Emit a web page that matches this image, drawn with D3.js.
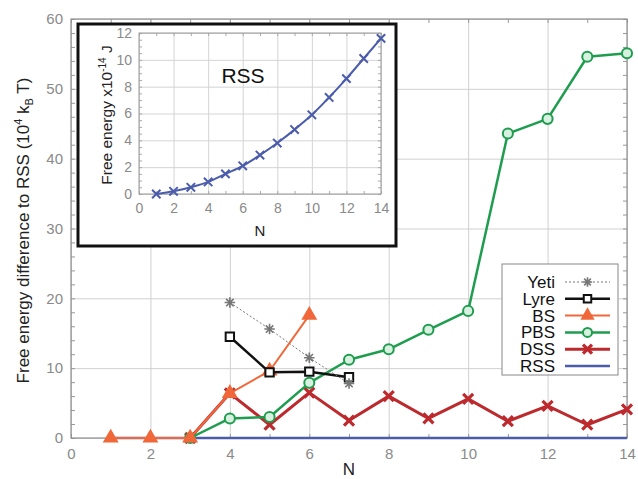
<!DOCTYPE html>
<html>
<head>
<meta charset="utf-8">
<script src="https://cdn.jsdelivr.net/npm/d3@7"></script>
<style>
  body { margin: 0; background: #fff; }
  svg { display: block; font-family: "Liberation Sans", Arial, sans-serif; }
  .tick text { fill: #8a8a8a; }
</style>
</head>
<body>
<svg width="638" height="479"></svg>
<script>
// data
const xTicks = [0, 2, 4, 6, 8, 10, 12, 14];
const yTicks = [0, 10, 20, 30, 40, 50, 60];
const insetYTicks = [0, 2, 4, 6, 8, 10, 12];

const yetiN = [4, 5, 6, 7];
const yetiE = [19.4, 15.6, 11.5, 7.8];
const lyreN = [4, 5, 6, 7];
const lyreE = [14.5, 9.4, 9.5, 8.7];
const bsN = [1, 2, 3, 4, 5, 6];
const bsE = [0, 0, 0, 6.4, 9.6, 17.6];
const pbsN = [3, 4, 5, 6, 7, 8, 9, 10, 11, 12, 13, 14];
const pbsE = [0, 2.8, 3.0, 7.9, 11.2, 12.7, 15.5, 18.2, 43.6, 45.7, 54.6, 55.1];
const dssN = [3, 4, 5, 6, 7, 8, 9, 10, 11, 12, 13, 14];
const dssE = [0, 6.4, 1.9, 6.5, 2.5, 6.0, 2.8, 5.6, 2.4, 4.6, 1.9, 4.1];
const rssN = [1, 2, 3, 4, 5, 6, 7, 8, 9, 10, 11, 12, 13, 14];
const rssE = [0, 0, 0, 0, 0, 0, 0, 0, 0, 0, 0, 0, 0, 0];

const insetN = [1, 2, 3, 4, 5, 6, 7, 8, 9, 10, 11, 12, 13, 14];
const insetE = [0.0, 0.2, 0.5, 0.9, 1.5, 2.1, 2.9, 3.8, 4.8, 5.9, 7.2, 8.6, 10.1, 11.6];

const legendNames = ['Yeti', 'Lyre', 'BS', 'PBS', 'DSS', 'RSS'];

const zip = (ns, es) => ns.map((n, i) => ({ n, e: es[i] }));

// custom stroke symbols
const symAsterisk = {
  draw(ctx, size) {
    const r = Math.sqrt(size) / 2;
    for (let k = 0; k < 4; k++) {
      const a = k * Math.PI / 4;
      ctx.moveTo(-r * Math.cos(a), -r * Math.sin(a));
      ctx.lineTo(r * Math.cos(a), r * Math.sin(a));
    }
  }
};
const symX = {
  draw(ctx, size) {
    const r = Math.sqrt(size) / 2;
    ctx.moveTo(-r, -r); ctx.lineTo(r, r);
    ctx.moveTo(-r, r); ctx.lineTo(r, -r);
  }
};

const series = [
  { name: 'RSS', data: zip(rssN, rssE), color: '#4b5cab', width: 2.5 },
  { name: 'DSS', data: zip(dssN, dssE), color: '#bd2a2e', width: 3,
    sym: symX, size: 100, symStroke: 3.2, fill: 'none' },
  { name: 'PBS', data: zip(pbsN, pbsE), color: '#1f9d4f', width: 2.5,
    sym: d3.symbolCircle, size: 80, symStroke: 2, fill: '#d8f0df' },
  { name: 'BS', data: zip(bsN, bsE), color: '#f0683a', width: 2,
    sym: d3.symbolTriangle, size: 110, symStroke: 0, fill: '#f0683a' },
  { name: 'Lyre', data: zip(lyreN, lyreE), color: '#111', width: 2.5,
    sym: d3.symbolSquare, size: 70, symStroke: 2, fill: '#fff' },
  { name: 'Yeti', data: zip(yetiN, yetiE), color: '#777', width: 1, dash: '2,2',
    sym: symAsterisk, size: 110, symStroke: 1.6, fill: 'none' }
];

const svg = d3.select('svg');

const margin = { top: 19, right: 11, bottom: 41, left: 71 };
const width = +svg.attr('width');
const height = +svg.attr('height');
const innerWidth = width - margin.left - margin.right;
const innerHeight = height - margin.top - margin.bottom;

const xScale = d3.scaleLinear().domain([0, 14]).range([0, innerWidth]);
const yScale = d3.scaleLinear().domain([0, 60]).range([innerHeight, 0]);

const g = svg.append('g')
  .attr('transform', `translate(${margin.left},${margin.top})`);

// lines-only axis (grid / minor ticks), no labels
const lineAxis = (parent, axis, tr, color) => {
  const a = parent.append('g').attr('transform', tr).call(axis);
  a.select('.domain').remove();
  a.selectAll('text').remove();
  a.selectAll('line').attr('stroke', color);
  return a;
};

// grid
lineAxis(g, d3.axisBottom(xScale).tickValues(xTicks).tickSize(-innerHeight), `translate(0,${innerHeight})`, '#d0d0d0');
lineAxis(g, d3.axisLeft(yScale).tickValues(yTicks).tickSize(-innerWidth), 'translate(0,0)', '#d0d0d0');

// minor ticks on all four sides
const minorX = d3.range(0, 15, 1);
const minorY = d3.range(0, 61, 2);
lineAxis(g, d3.axisBottom(xScale).tickValues(minorX).tickSize(-4), `translate(0,${innerHeight})`, '#999');
lineAxis(g, d3.axisTop(xScale).tickValues(minorX).tickSize(-4), 'translate(0,0)', '#999');
lineAxis(g, d3.axisLeft(yScale).tickValues(minorY).tickSize(-4), 'translate(0,0)', '#999');
lineAxis(g, d3.axisRight(yScale).tickValues(minorY).tickSize(-4), `translate(${innerWidth},0)`, '#999');

// tick labels
const xAxisG = g.append('g')
  .attr('transform', `translate(0,${innerHeight})`)
  .call(d3.axisBottom(xScale).tickValues(xTicks).tickSize(0).tickPadding(10));
xAxisG.select('.domain').remove();
xAxisG.selectAll('text').attr('font-size', 15).attr('font-family', 'Liberation Sans, Arial, sans-serif');

const yAxisG = g.append('g')
  .call(d3.axisLeft(yScale).tickValues(yTicks).tickSize(0).tickPadding(8));
yAxisG.select('.domain').remove();
yAxisG.selectAll('text').attr('font-size', 15).attr('font-family', 'Liberation Sans, Arial, sans-serif');

// frame
g.append('rect')
  .attr('width', innerWidth).attr('height', innerHeight)
  .attr('fill', 'none').attr('stroke', '#8f8f8f').attr('stroke-width', 1.2);

// axis labels
g.append('text')
  .attr('x', innerWidth / 2)
  .attr('y', innerHeight + 37)
  .attr('text-anchor', 'middle')
  .attr('font-size', 17)
  .attr('fill', '#222')
  .text('N');

const yLabel = svg.append('text')
  .attr('transform', `translate(29,${margin.top + innerHeight / 2 + 2}) rotate(-90)`)
  .attr('text-anchor', 'middle')
  .attr('font-size', 17)
  .attr('fill', '#222');
yLabel.append('tspan').text('Free energy difference to RSS (10');
yLabel.append('tspan').attr('font-size', 11).attr('dy', -7).text('4');
yLabel.append('tspan').attr('dy', 7).text(' k');
yLabel.append('tspan').attr('font-size', 11).attr('dy', 4).text('B');
yLabel.append('tspan').attr('dy', -4).text(' T)');

// series
const lineGen = d3.line().x(d => xScale(d.n)).y(d => yScale(d.e));
series.forEach(s => {
  g.append('path')
    .attr('d', lineGen(s.data))
    .attr('fill', 'none')
    .attr('stroke', s.color)
    .attr('stroke-width', s.width)
    .attr('stroke-dasharray', s.dash || null)
    .attr('stroke-linejoin', 'round');
  if (s.sym) {
    g.selectAll(null).data(s.data).enter().append('path')
      .attr('transform', d => `translate(${xScale(d.n)},${yScale(d.e)})`)
      .attr('d', d3.symbol().type(s.sym).size(s.size))
      .attr('fill', s.fill)
      .attr('stroke', s.color)
      .attr('stroke-width', s.symStroke);
  }
});

// legend
const legend = svg.append('g').attr('transform', 'translate(502,264)');
legend.append('rect')
  .attr('width', 116).attr('height', 111)
  .attr('fill', '#fff').attr('stroke', '#888').attr('stroke-width', 1);
legendNames.forEach((name, i) => {
  const s = series.find(d => d.name === name);
  const y = 18 + i * 16.8;
  legend.append('text')
    .attr('x', 53).attr('y', y).attr('dy', '0.35em')
    .attr('text-anchor', 'end')
    .attr('font-size', 17)
    .attr('fill', '#111')
    .text(name);
  legend.append('line')
    .attr('x1', 63).attr('x2', 108).attr('y1', y).attr('y2', y)
    .attr('stroke', s.color)
    .attr('stroke-width', s.width)
    .attr('stroke-dasharray', s.dash || null);
  if (s.sym) {
    legend.append('path')
      .attr('transform', `translate(85.5,${y})`)
      .attr('d', d3.symbol().type(s.sym).size(s.size * 0.8))
      .attr('fill', s.fill)
      .attr('stroke', s.color)
      .attr('stroke-width', s.symStroke);
  }
});

// inset
const inset = svg.append('g');
inset.append('rect')
  .attr('x', 78).attr('y', 24).attr('width', 318).attr('height', 222)
  .attr('fill', '#fff').attr('stroke', '#111').attr('stroke-width', 3);

const ix = d3.scaleLinear().domain([0, 14]).range([139, 381]);
const iy = d3.scaleLinear().domain([0, 12]).range([194, 33]);

lineAxis(inset, d3.axisBottom(ix).tickValues(xTicks).tickSize(-(194 - 33)), 'translate(0,194)', '#d4d4d4');
lineAxis(inset, d3.axisLeft(iy).tickValues(insetYTicks).tickSize(-(381 - 139)), 'translate(139,0)', '#d4d4d4');
const iMinorX = d3.range(0, 15, 1);
const iMinorY = d3.range(0, 12.1, 0.5);
lineAxis(inset, d3.axisBottom(ix).tickValues(iMinorX).tickSize(-3), 'translate(0,194)', '#aaa');
lineAxis(inset, d3.axisTop(ix).tickValues(iMinorX).tickSize(-3), 'translate(0,33)', '#aaa');
lineAxis(inset, d3.axisLeft(iy).tickValues(iMinorY).tickSize(-3), 'translate(139,0)', '#aaa');
lineAxis(inset, d3.axisRight(iy).tickValues(iMinorY).tickSize(-3), 'translate(381,0)', '#aaa');

const ixAxis = inset.append('g').attr('transform', 'translate(0,194)')
  .call(d3.axisBottom(ix).tickValues(xTicks).tickSize(0).tickPadding(9));
ixAxis.select('.domain').remove();
ixAxis.selectAll('text').attr('font-size', 14).attr('font-family', 'Liberation Sans, Arial, sans-serif');
const iyAxis = inset.append('g').attr('transform', 'translate(139,0)')
  .call(d3.axisLeft(iy).tickValues(insetYTicks).tickSize(0).tickPadding(7));
iyAxis.select('.domain').remove();
iyAxis.selectAll('text').attr('font-size', 14).attr('font-family', 'Liberation Sans, Arial, sans-serif');

inset.append('rect')
  .attr('x', 139).attr('y', 33).attr('width', 381 - 139).attr('height', 194 - 33)
  .attr('fill', 'none').attr('stroke', '#999').attr('stroke-width', 1);

inset.append('text')
  .attr('x', 260).attr('y', 236)
  .attr('text-anchor', 'middle')
  .attr('font-size', 15).attr('fill', '#222')
  .text('N');

const iyLabel = inset.append('text')
  .attr('transform', `translate(112,115) rotate(-90)`)
  .attr('text-anchor', 'middle')
  .attr('font-size', 15.5).attr('fill', '#222');
iyLabel.append('tspan').text('Free energy x10');
iyLabel.append('tspan').attr('font-size', 10).attr('dy', -6).text('-14');
iyLabel.append('tspan').attr('dy', 6).text(' J');

inset.append('text')
  .attr('x', 243).attr('y', 83)
  .attr('text-anchor', 'middle')
  .attr('font-size', 21).attr('fill', '#111')
  .text('RSS');

const insetData = zip(insetN, insetE);
inset.append('path')
  .attr('d', d3.line().x(d => ix(d.n)).y(d => iy(d.e)).curve(d3.curveMonotoneX)(insetData))
  .attr('fill', 'none').attr('stroke', '#4b5cab').attr('stroke-width', 2);
inset.selectAll(null).data(insetData).enter().append('path')
  .attr('transform', d => `translate(${ix(d.n)},${iy(d.e)})`)
  .attr('d', d3.symbol().type(symX).size(70))
  .attr('fill', 'none').attr('stroke', '#4b5cab').attr('stroke-width', 2);
</script>
</body>
</html>
